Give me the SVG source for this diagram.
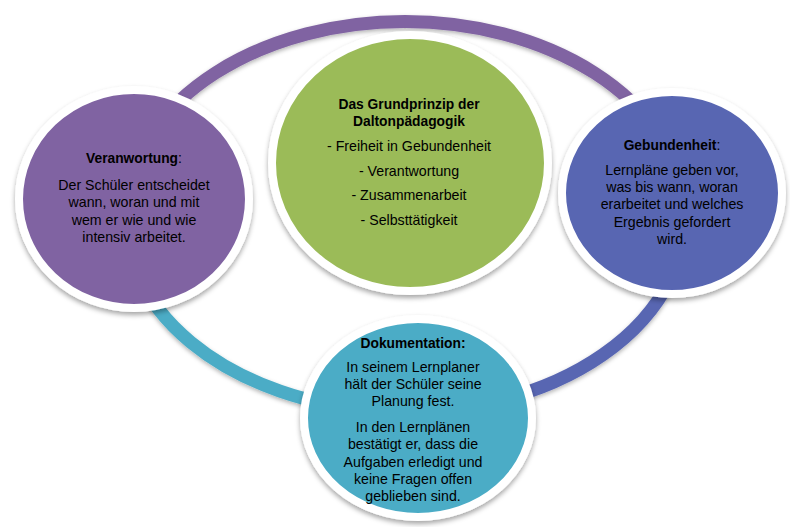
<svg xmlns="http://www.w3.org/2000/svg" width="790" height="527" viewBox="0 0 790 527">
  <defs>
    <filter id="shadow" x="-20%" y="-20%" width="140%" height="140%">
      <feDropShadow dx="0" dy="3" stdDeviation="2.5" flood-color="#000" flood-opacity="0.35"/>
    </filter>
    <filter id="ringShadow" x="-10%" y="-10%" width="120%" height="120%">
      <feDropShadow dx="0" dy="2" stdDeviation="2" flood-color="#000" flood-opacity="0.3"/>
    </filter>
  </defs>
  <style>
    .ring { fill: none; stroke-width: 13; }
    .node { stroke: #ffffff; stroke-width: 8; filter: url(#shadow); }
    text { font-family: "Liberation Sans", Arial, sans-serif; font-size: 14.2px; fill: #000; text-anchor: middle; }
    .b { font-weight: bold; font-size: 13.8px; }
  </style>

  <!-- cycle ring (ellipse centre 405,217, radii 280x195), split into three coloured arcs -->
  <g id="connectors" filter="url(#ringShadow)">
    <path class="ring" stroke="#8064A2" d="M 126 200 A 280 195 0 0 1 684 200"/>
    <path class="ring" stroke="#5866B2" d="M 684 200 A 280 195 0 0 1 381 411"/>
    <path class="ring" stroke="#4BACC6" d="M 381 411 A 280 195 0 0 1 126 200"/>
  </g>

  <!-- left node -->
  <g id="verantwortung">
    <ellipse class="node" cx="134" cy="199" rx="115" ry="109" fill="#8064A2"/>
    <text x="134" y="163"><tspan class="b">Veranwortung</tspan>:</text>
    <text x="134" y="190">Der Schüler entscheidet</text>
    <text x="134" y="207">wann, woran und mit</text>
    <text x="134" y="225">wem er wie und wie</text>
    <text x="134" y="242">intensiv arbeitet.</text>
  </g>

  <!-- centre node -->
  <g id="grundprinzip">
    <ellipse class="node" cx="410" cy="163" rx="138" ry="128" fill="#9BBB59"/>
    <text class="b" x="409" y="109">Das Grundprinzip der</text>
    <text class="b" x="409" y="126">Daltonpädagogik</text>
    <text x="409" y="151">- Freiheit in Gebundenheit</text>
    <text x="409" y="176">- Verantwortung</text>
    <text x="409" y="200">- Zusammenarbeit</text>
    <text x="409" y="225">- Selbsttätigkeit</text>
  </g>

  <!-- right node -->
  <g id="gebundenheit">
    <ellipse class="node" cx="672" cy="193" rx="110" ry="101" fill="#5866B2"/>
    <text x="672" y="150"><tspan class="b">Gebundenheit</tspan>:</text>
    <text x="672" y="175">Lernpläne geben vor,</text>
    <text x="672" y="192">was bis wann, woran</text>
    <text x="672" y="209">erarbeitet und welches</text>
    <text x="672" y="227">Ergebnis gefordert</text>
    <text x="672" y="244">wird.</text>
  </g>

  <!-- bottom node -->
  <g id="dokumentation">
    <ellipse class="node" cx="418" cy="418" rx="114" ry="99" fill="#4BACC6"/>
    <text class="b" x="413" y="348">Dokumentation:</text>
    <text x="413" y="372">In seinem Lernplaner</text>
    <text x="413" y="389">hält der Schüler seine</text>
    <text x="413" y="406">Planung fest.</text>
    <text x="413" y="432">In den Lernplänen</text>
    <text x="413" y="449">bestätigt er, dass die</text>
    <text x="413" y="467">Aufgaben erledigt und</text>
    <text x="413" y="484">keine Fragen offen</text>
    <text x="413" y="501">geblieben sind.</text>
  </g>
</svg>
